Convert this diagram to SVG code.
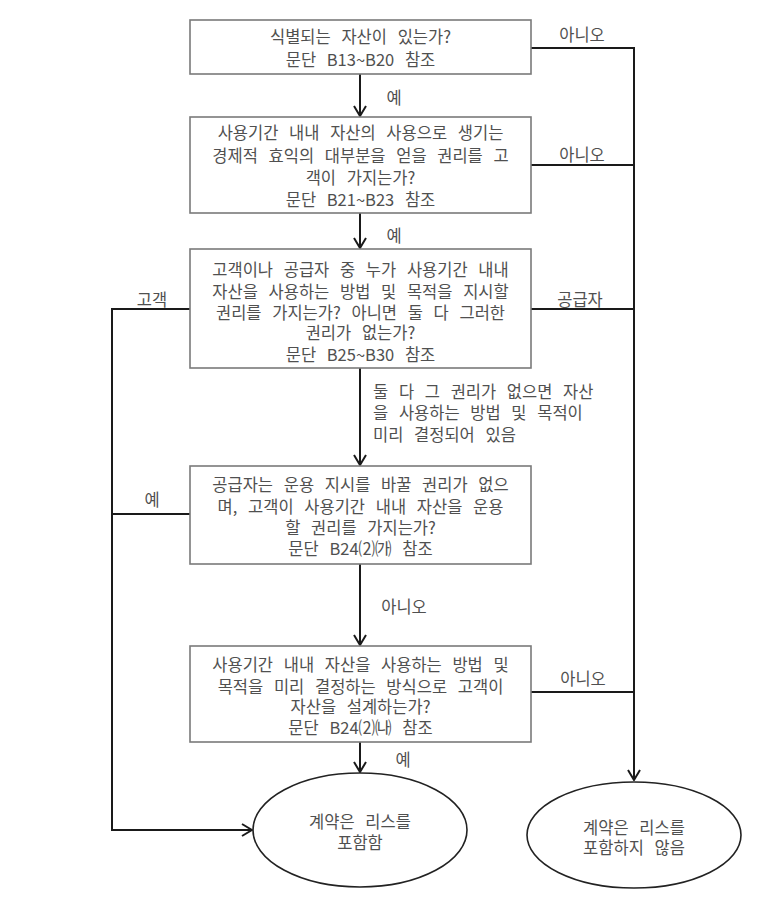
<svg xmlns="http://www.w3.org/2000/svg" width="762" height="914" viewBox="0 0 762 914">
<style>
.bg{fill:#fff}
.box{fill:#fff;stroke:#7a7a7a;stroke-width:1.6}
.ell{fill:#fff;stroke:#222;stroke-width:1.6}
.t{font-family:"Noto Sans CJK KR","Noto Sans",sans-serif;font-size:16.5px;fill:#505050;text-anchor:middle;word-spacing:7px}
.l{font-family:"Noto Sans CJK KR","Noto Sans",sans-serif;font-size:16.5px;fill:#505050;word-spacing:7px}
.c{fill:none;stroke:#1a1a1a;stroke-width:2}
</style>
<defs>
<marker id="arr" viewBox="0 0 12 14" refX="11" refY="7" markerWidth="12" markerHeight="14" markerUnits="userSpaceOnUse" orient="auto">
<path d="M1,1 L11,7 L1,13" fill="none" stroke="#1a1a1a" stroke-width="2"/>
</marker>
</defs>
<rect class="bg" x="0" y="0" width="762" height="914"/>

<g id="connectors">
<path class="c" d="M360,74 V116" marker-end="url(#arr)"/>
<path class="c" d="M360,213 V248" marker-end="url(#arr)"/>
<path class="c" d="M360,368 V465" marker-end="url(#arr)"/>
<path class="c" d="M360,564 V645" marker-end="url(#arr)"/>
<path class="c" d="M360,742 V772" marker-end="url(#arr)"/>
<path class="c" d="M531,48 H634 V780" marker-end="url(#arr)"/>
<path class="c" d="M531,165 H634"/>
<path class="c" d="M531,309 H634"/>
<path class="c" d="M531,692 H634"/>
<path class="c" d="M190,309 H112 V830 H252" marker-end="url(#arr)"/>
<path class="c" d="M190,514 H112"/>
<text class="t" x="582" y="41">아니오</text>
<text class="t" x="582" y="161">아니오</text>
<text class="t" x="580" y="306">공급자</text>
<text class="t" x="583" y="685">아니오</text>
<text class="t" x="152" y="306">고객</text>
<text class="t" x="152" y="506">예</text>
<text class="t" x="394" y="104">예</text>
<text class="t" x="394" y="242">예</text>
<text class="t" x="404" y="613">아니오</text>
<text class="t" x="403" y="766">예</text>
<text class="l" x="373" y="398">둘 다 그 권리가 없으면 자산</text>
<text class="l" x="373" y="419">을 사용하는 방법 및 목적이</text>
<text class="l" x="373" y="441">미리 결정되어 있음</text>
</g>

<g id="n1">
<rect class="box" x="190" y="20" width="341" height="54"/>
<text class="t" x="360.5" y="43">식별되는 자산이 있는가?</text>
<text class="t" x="360.5" y="66">문단 B13~B20 참조</text>
</g>

<g id="n2">
<rect class="box" x="190" y="117" width="341" height="96"/>
<text class="t" x="360.5" y="139">사용기간 내내 자산의 사용으로 생기는</text>
<text class="t" x="360.5" y="162">경제적 효익의 대부분을 얻을 권리를 고</text>
<text class="t" x="360.5" y="184">객이 가지는가?</text>
<text class="t" x="360.5" y="206">문단 B21~B23 참조</text>
</g>

<g id="n3">
<rect class="box" x="190" y="249" width="341" height="119"/>
<text class="t" x="360.5" y="276">고객이나 공급자 중 누가 사용기간 내내</text>
<text class="t" x="360.5" y="298">자산을 사용하는 방법 및 목적을 지시할</text>
<text class="t" x="360.5" y="319">권리를 가지는가? 아니면 둘 다 그러한</text>
<text class="t" x="360.5" y="339">권리가 없는가?</text>
<text class="t" x="360.5" y="361">문단 B25~B30 참조</text>
</g>

<g id="n4">
<rect class="box" x="190" y="466" width="341" height="98"/>
<text class="t" x="360.5" y="491">공급자는 운용 지시를 바꿀 권리가 없으</text>
<text class="t" x="360.5" y="513">며, 고객이 사용기간 내내 자산을 운용</text>
<text class="t" x="360.5" y="534">할 권리를 가지는가?</text>
<text class="t" x="360.5" y="555">문단 B24⑵㈎ 참조</text>
</g>

<g id="n5">
<rect class="box" x="190" y="646" width="341" height="96"/>
<text class="t" x="360.5" y="671">사용기간 내내 자산을 사용하는 방법 및</text>
<text class="t" x="360.5" y="693">목적을 미리 결정하는 방식으로 고객이</text>
<text class="t" x="360.5" y="713">자산을 설계하는가?</text>
<text class="t" x="360.5" y="734">문단 B24⑵㈏ 참조</text>
</g>

<g id="n6">
<ellipse class="ell" cx="360" cy="830" rx="107" ry="57"/>
<text class="t" x="360" y="828">계약은 리스를</text>
<text class="t" x="360" y="849">포함함</text>
</g>

<g id="n7">
<ellipse class="ell" cx="634" cy="835" rx="107" ry="53"/>
<text class="t" x="634" y="834">계약은 리스를</text>
<text class="t" x="634" y="854">포함하지 않음</text>
</g>
</svg>
